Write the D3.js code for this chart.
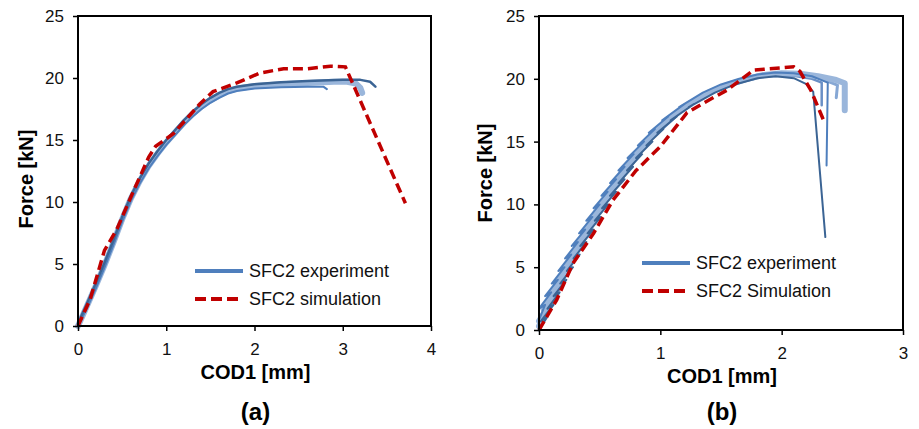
<!DOCTYPE html>
<html lang="en">

<head>
    <meta charset="UTF-8">
    <title>Force vs COD1</title>
    <script src="https://d3js.org/d3.v7.min.js"></script>
    <style>
        body {
            margin: 0;
            background: #fff;
        }

        svg {
            font-family: "Liberation Sans", Arial, sans-serif;
        }
    </style>
</head>

<body>
    <svg id="chart" width="919" height="429"></svg>

    <script>
        // ---- data (COD1 in mm, force in kN) ----

        // panel (a)
        var aExpLight = [[0, 0], [0.1, 1.6], [0.2, 3.2], [0.3, 4.9], [0.4, 6.7], [0.5, 8.6], [0.6, 10.3], [0.7, 11.7],
        [0.8, 12.9], [0.9, 13.9], [1.0, 14.8], [1.1, 15.6], [1.2, 16.4], [1.3, 17.1], [1.4, 17.7], [1.5, 18.2],
        [1.6, 18.6], [1.7, 18.95], [1.8, 19.15], [2.0, 19.35], [2.3, 19.5], [2.6, 19.6], [2.9, 19.7], [3.05, 19.7],
        [3.15, 19.55], [3.2, 19.2], [3.22, 18.8]];
        var aExpLow = [[0, 0], [0.1, 1.4], [0.2, 3.0], [0.3, 4.7], [0.4, 6.5], [0.5, 8.4], [0.6, 10.1], [0.7, 11.5],
        [0.8, 12.7], [0.9, 13.7], [1.0, 14.6], [1.1, 15.4], [1.2, 16.2], [1.3, 16.9], [1.4, 17.5], [1.5, 18.0],
        [1.6, 18.4], [1.7, 18.75], [1.8, 18.95], [2.0, 19.15], [2.3, 19.25], [2.6, 19.3], [2.78, 19.3], [2.82, 19.1]];
        var aExpHigh = [[0, 0.2], [0.1, 1.8], [0.2, 3.4], [0.3, 5.1], [0.4, 6.9], [0.5, 8.8], [0.6, 10.5], [0.7, 11.9],
        [0.8, 13.1], [0.9, 14.1], [1.0, 15.0], [1.1, 15.8], [1.2, 16.6], [1.3, 17.3], [1.4, 17.9], [1.5, 18.4],
        [1.6, 18.8], [1.7, 19.1], [1.8, 19.3], [2.0, 19.5], [2.3, 19.65], [2.6, 19.75], [3.0, 19.85], [3.2, 19.85],
        [3.31, 19.7], [3.37, 19.3]];
        var aSim = [[0, 0], [0.14, 2.2], [0.3, 6.1], [0.44, 7.8], [0.63, 10.9], [0.8, 13.6], [0.88, 14.5], [1.08, 15.5],
        [1.38, 17.9], [1.53, 18.9], [1.8, 19.6], [2.06, 20.4], [2.33, 20.75], [2.6, 20.75], [2.86, 20.95],
        [3.03, 20.9], [3.71, 9.9]];

        // panel (b) - loading/unloading cycles give the saw-tooth
        var bExpMid = [[0, 0.3], [0.03, 1.0], [0.0, 0.7], [0.085, 2.0], [0.035, 1.7], [0.135, 3.0], [0.085, 2.7],
        [0.19, 4.0], [0.14, 3.7], [0.245, 5.0], [0.195, 4.7], [0.30, 6.0], [0.25, 5.7], [0.355, 7.0], [0.305, 6.7],
        [0.415, 8.0], [0.365, 7.7], [0.475, 9.0], [0.425, 8.7], [0.535, 10.0], [0.485, 9.7], [0.60, 11.0], [0.55, 10.7],
        [0.67, 12.0], [0.62, 11.7], [0.74, 13.0], [0.69, 12.7], [0.815, 14.0], [0.765, 13.7], [0.90, 15.0],
        [0.85, 14.7], [0.99, 16.0], [0.94, 15.7], [1.10, 17.0], [1.05, 16.7], [1.24, 18.0], [1.19, 17.75],
        [1.4, 18.9], [1.55, 19.5], [1.7, 19.95], [1.85, 20.3], [2.0, 20.45], [2.15, 20.4], [2.3, 20.2], [2.45, 19.9],
        [2.52, 19.65], [2.52, 17.5]];
        var bExpLeft = [[0, 0.8], [0.05, 2.0], [0.0, 1.7], [0.10, 3.0], [0.05, 2.7], [0.155, 4.0], [0.105, 3.7],
        [0.21, 5.0], [0.16, 4.7], [0.265, 6.0], [0.215, 5.7], [0.32, 7.0], [0.27, 6.7], [0.38, 8.0], [0.33, 7.7],
        [0.44, 9.0], [0.39, 8.7], [0.50, 10.0], [0.45, 9.7], [0.565, 11.0], [0.515, 10.7], [0.635, 12.0],
        [0.585, 11.7], [0.705, 13.0], [0.655, 12.7], [0.78, 14.0], [0.73, 13.7], [0.865, 15.0], [0.815, 14.7],
        [0.955, 16.0], [0.905, 15.7], [1.065, 17.0], [1.015, 16.7], [1.2, 18.0], [1.155, 17.75], [1.35, 18.9],
        [1.5, 19.55], [1.65, 20.0], [1.8, 20.35], [1.95, 20.5], [2.1, 20.45], [2.25, 20.2], [2.38, 19.7], [2.37, 13.1]];
        var bExpRight = [[0, 0], [0.065, 1.0], [0.015, 0.7], [0.12, 2.0], [0.07, 1.7], [0.17, 3.0], [0.12, 2.7],
        [0.225, 4.0], [0.175, 3.7], [0.28, 5.0], [0.23, 4.7], [0.335, 6.0], [0.285, 5.7], [0.39, 7.0], [0.34, 6.7],
        [0.45, 8.0], [0.40, 7.7], [0.51, 9.0], [0.46, 8.7], [0.57, 10.0], [0.52, 9.7], [0.635, 11.0], [0.585, 10.7],
        [0.705, 12.0], [0.655, 11.7], [0.775, 13.0], [0.725, 12.7], [0.85, 14.0], [0.80, 13.7], [0.935, 15.0],
        [0.885, 14.7], [1.025, 16.0], [0.975, 15.7], [1.135, 17.0], [1.085, 16.7], [1.28, 18.0], [1.235, 17.75],
        [1.45, 18.9], [1.6, 19.5], [1.8, 20.05], [1.95, 20.2], [2.1, 20.05], [2.2, 19.6], [2.26, 18.97], [2.36, 7.4]];
        var bExpFour = [[0, 0], [0.25, 5], [0.535, 10], [0.9, 15], [1.24, 18], [1.55, 19.5], [1.85, 20.3], [2.1, 20.4],
        [2.3, 20.1], [2.46, 19.5], [2.45, 18.5]];
        var bExpFive = [[0, 0], [0.25, 5], [0.535, 10], [0.9, 15], [1.24, 18], [1.55, 19.45], [1.85, 20.2], [2.1, 20.25],
        [2.25, 20.0], [2.33, 19.7], [2.33, 17.9]];
        var bSim = [[0, 0], [0.146, 2.4], [0.28, 5.3], [0.45, 7.7], [0.61, 10.35], [0.8, 12.7], [1.0, 14.6], [1.22, 17.3],
        [1.38, 18.2], [1.55, 19.1], [1.77, 20.7], [2.1, 20.95], [2.15, 20.6], [2.24, 19.1], [2.35, 16.6]];

        var yTicks = [0, 5, 10, 15, 20, 25];
        var xTicksA = [0, 1, 2, 3, 4];
        var xTicksB = [0, 1, 2, 3];
        var xTitle = "COD1 [mm]";
        var yTitle = "Force [kN]";

        // colours
        var cLight = "#9ab6db";
        var cMid = "#4f7fbd";
        var cDark = "#3b6494";
        var cRed = "#c00000";

        var svg = d3.select("#chart");

        function drawPanel(p) {
            var x = d3.scaleLinear().domain(p.xDomain).range([p.left, p.right]);
            var y = d3.scaleLinear().domain([0, 25]).range([p.bottom, p.top]);
            var g = svg.append("g");

            var line = d3.line()
                .x(function (d) { return x(d[0]); })
                .y(function (d) { return y(d[1]); });

            // experiment curves
            p.curves.forEach(function (c) {
                g.append("path")
                    .attr("d", line(c.data))
                    .attr("fill", "none")
                    .attr("stroke", c.color)
                    .attr("stroke-width", c.width)
                    .attr("stroke-linejoin", "round")
                    .attr("stroke-linecap", "round");
            });

            // simulation
            g.append("path")
                .attr("d", line(p.sim))
                .attr("fill", "none")
                .attr("stroke", cRed)
                .attr("stroke-width", 3.5)
                .attr("stroke-dasharray", "10,5");

            // frame
            g.append("rect")
                .attr("x", p.left).attr("y", p.top)
                .attr("width", p.right - p.left).attr("height", p.bottom - p.top)
                .attr("fill", "none").attr("stroke", "#000").attr("stroke-width", 2);

            // axes
            var ax = g.append("g")
                .attr("transform", `translate(0, ${p.bottom})`)
                .call(d3.axisBottom(x).tickValues(p.xTicks).tickFormat(d3.format("d"))
                    .tickSize(5).tickPadding(12));
            var ay = g.append("g")
                .attr("transform", `translate(${p.left}, 0)`)
                .call(d3.axisLeft(y).tickValues(yTicks).tickFormat(d3.format("d"))
                    .tickSize(5).tickPadding(9));
            [ax, ay].forEach(function (a) {
                a.select(".domain").remove();
                a.selectAll("line").attr("stroke", "#000").attr("stroke-width", 1.5);
                a.selectAll("text")
                    .attr("font-family", "'Liberation Sans', Arial, sans-serif")
                    .attr("font-size", 17).attr("fill", "#111");
            });

            // axis titles
            g.append("text")
                .attr("x", (p.left + p.right) / 2 + 1).attr("y", p.bottom + 53)
                .attr("text-anchor", "middle")
                .attr("font-size", 20).attr("font-weight", "bold")
                .text(xTitle);
            g.append("text")
                .attr("transform", `translate(${p.yTitleX}, ${p.yTitleY}) rotate(-90)`)
                .attr("text-anchor", "middle")
                .attr("font-size", 20).attr("font-weight", "bold")
                .text(yTitle);
            g.append("text")
                .attr("x", (p.left + p.right) / 2 + 1).attr("y", 420)
                .attr("text-anchor", "middle")
                .attr("font-size", 24).attr("font-weight", "bold")
                .text(p.label);

            // legend
            var lg = g.append("g").attr("transform", `translate(${p.legX}, ${p.legY})`);
            lg.append("line").attr("x1", 0).attr("x2", 48).attr("y1", 0).attr("y2", 0)
                .attr("stroke", cMid).attr("stroke-width", 4);
            lg.append("line").attr("x1", 0).attr("x2", 44).attr("y1", 28).attr("y2", 28)
                .attr("stroke", cRed).attr("stroke-width", 4).attr("stroke-dasharray", "11,5");
            lg.append("text").attr("x", 54).attr("y", 0).attr("dy", "0.35em")
                .attr("font-size", 18).attr("fill", "#111").text(p.legend[0]);
            lg.append("text").attr("x", 54).attr("y", 28).attr("dy", "0.35em")
                .attr("font-size", 18).attr("fill", "#111").text(p.legend[1]);
        }

        drawPanel({
            left: 78, right: 431, top: 16, bottom: 326,
            xDomain: [0, 4], xTicks: xTicksA,
            curves: [
                { data: aExpLight, color: cLight, width: 6 },
                { data: aExpLow, color: cMid, width: 2 },
                { data: aExpHigh, color: cDark, width: 2.5 }
            ],
            sim: aSim,
            yTitleX: 33, yTitleY: 179,
            legX: 195, legY: 271,
            legend: ["SFC2 experiment", "SFC2 simulation"],
            label: "(a)"
        });

        drawPanel({
            left: 539, right: 903, top: 16, bottom: 330,
            xDomain: [0, 3], xTicks: xTicksB,
            curves: [
                { data: bExpFour, color: "#86a7d4", width: 3 },
                { data: bExpFive, color: "#6a90c6", width: 2.5 },
                { data: bExpMid, color: cLight, width: 6 },
                { data: bExpLeft, color: cMid, width: 2 },
                { data: bExpRight, color: cDark, width: 2 }
            ],
            sim: bSim,
            yTitleX: 492, yTitleY: 173,
            legX: 642, legY: 263,
            legend: ["SFC2 experiment", "SFC2 Simulation"],
            label: "(b)"
        });
    </script>
</body>

</html>
